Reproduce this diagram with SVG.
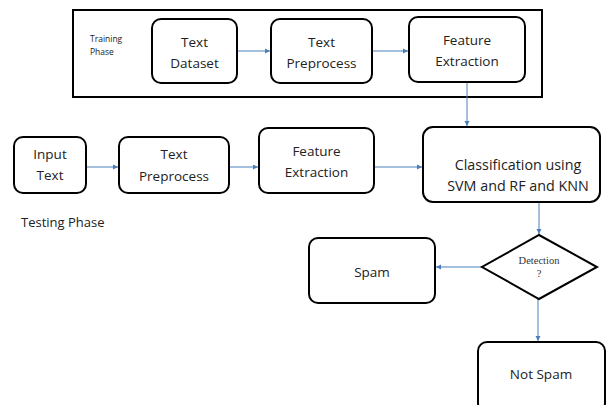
<svg xmlns="http://www.w3.org/2000/svg" width="611" height="405" viewBox="0 0 611 405">
<defs>
<marker id="ah" markerWidth="6" markerHeight="6" refX="5" refY="3" orient="auto" markerUnits="userSpaceOnUse">
<path d="M0,0.5 L5,3 L0,5.5 Z" fill="#4a7ebb"/>
</marker>
<style>
.n{fill:#fff;stroke:#000;stroke-width:2}
.t{font-family:"Open Sans","Liberation Sans",sans-serif;font-size:13.5px;fill:#222;text-anchor:middle}
.s{font-family:"Open Sans","Liberation Sans",sans-serif;font-size:8.5px;fill:#222}
.c{stroke:#4a7ebb;stroke-width:1;fill:none;marker-end:url(#ah)}
.d{font-family:"Liberation Serif",serif;font-size:10.5px;fill:#333;text-anchor:middle}
</style>
</defs>
<rect width="611" height="405" fill="#fff"/>
<g id="training">
<rect x="73" y="10" width="469" height="87" fill="#fff" stroke="#000" stroke-width="2"/>
<text class="s" x="90" y="42">Training</text>
<text class="s" x="90" y="55">Phase</text>
</g>
<g id="testing-label">
<text x="21" y="227" style="font-family:'Open Sans','Liberation Sans',sans-serif;font-size:13px;fill:#222">Testing Phase</text>
</g>
<g id="connectors">
<line class="c" x1="237" y1="51" x2="270" y2="51"/>
<line class="c" x1="372" y1="51" x2="408" y2="51"/>
<line class="c" x1="467" y1="82" x2="467" y2="126"/>
<line class="c" x1="86" y1="167" x2="118" y2="167"/>
<line class="c" x1="229" y1="167" x2="258" y2="167"/>
<line class="c" x1="374" y1="167" x2="422" y2="167"/>
<line class="c" x1="539" y1="202" x2="539" y2="234"/>
<line class="c" x1="482" y1="267" x2="436" y2="267"/>
<line class="c" x1="538" y1="299" x2="538" y2="341"/>
</g>
<g id="text-dataset">
<rect class="n" x="152" y="19" width="85" height="64" rx="9"/>
<text class="t" x="194.5" y="47">Text</text>
<text class="t" x="194.5" y="68">Dataset</text>
</g>
<g id="train-preprocess">
<rect class="n" x="271" y="19" width="101" height="64" rx="9"/>
<text class="t" x="321.5" y="47">Text</text>
<text class="t" x="321.5" y="68">Preprocess</text>
</g>
<g id="train-feature">
<rect class="n" x="409" y="17" width="116" height="65" rx="9"/>
<text class="t" x="467" y="45">Feature</text>
<text class="t" x="467" y="66">Extraction</text>
</g>
<g id="input-text">
<rect class="n" x="14" y="137" width="72" height="56" rx="9"/>
<text class="t" x="50" y="159">Input</text>
<text class="t" x="50" y="180">Text</text>
</g>
<g id="test-preprocess">
<rect class="n" x="119" y="137" width="110" height="56" rx="9"/>
<text class="t" x="174" y="159">Text</text>
<text class="t" x="174" y="181">Preprocess</text>
</g>
<g id="test-feature">
<rect class="n" x="259" y="128" width="115" height="65" rx="9"/>
<text class="t" x="316.5" y="156">Feature</text>
<text class="t" x="316.5" y="177">Extraction</text>
</g>
<g id="classification">
<rect class="n" x="423" y="127" width="177" height="75" rx="10"/>
<text class="t" x="518" y="170" style="font-size:14.3px">Classification using</text>
<text class="t" x="518" y="191" style="font-size:14.3px">SVM and RF and KNN</text>
</g>
<g id="detection">
<polygon class="n" points="539,235 597,267 539,299 482,267"/>
<text class="d" x="539" y="264">Detection</text>
<text class="d" x="539" y="277">?</text>
</g>
<g id="spam">
<rect class="n" x="309" y="238" width="126" height="65" rx="9"/>
<text class="t" x="372" y="277">Spam</text>
</g>
<g id="not-spam">
<rect class="n" x="478" y="342" width="127" height="70" rx="9"/>
<text class="t" x="541" y="379">Not Spam</text>
</g>
</svg>
